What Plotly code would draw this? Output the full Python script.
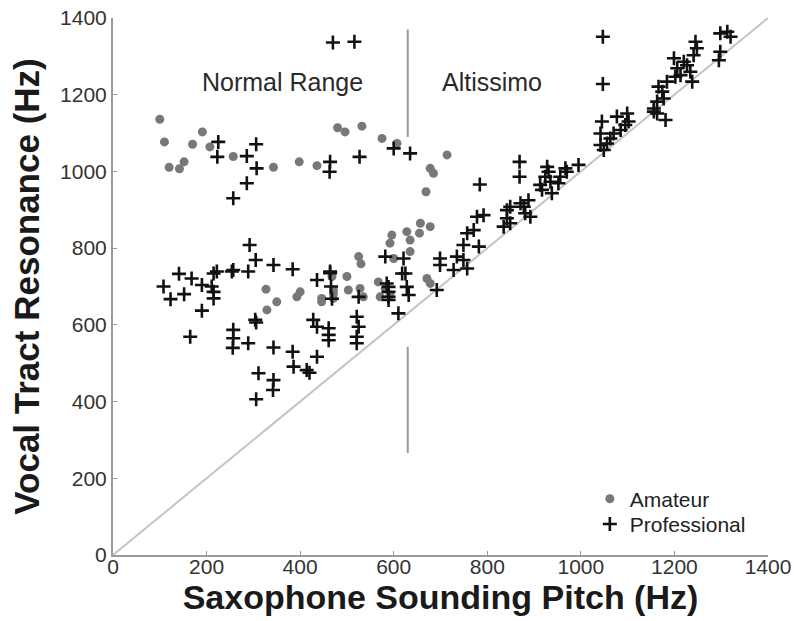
import plotly.graph_objects as go

# Amateur players: sounding pitch (Hz) vs. measured vocal tract resonance (Hz)
amateur_pitch = [100, 110, 170, 191, 207, 120, 142, 152, 257, 343, 398, 436, 480, 496,
                 532, 575, 607, 714, 678, 685, 669, 657, 678, 655, 596, 628, 635, 592,
                 635, 600, 525, 530, 500, 503, 528, 535, 567, 571, 582, 592, 671, 678,
                 468, 471, 327, 350, 329, 393, 400, 446, 446, 471, 471]
amateur_resonance = [1136, 1077, 1071, 1103, 1064, 1011, 1007, 1025, 1039, 1011, 1025, 1015, 1114, 1103,
                     1118, 1086, 1073, 1043, 1008, 995, 947, 865, 856, 839, 834, 843, 821, 813,
                     791, 773, 778, 759, 726, 691, 695, 673, 712, 673, 695, 678, 721, 708,
                     726, 682, 693, 660, 639, 673, 686, 669, 660, 691, 669]

# Professional players
pro_pitch = [470, 516, 225, 223, 286, 306, 307, 286, 257, 464, 463, 527, 600, 635, 784, 869, 869,
             292, 305, 343, 384, 464, 436, 141, 108, 123, 168, 190, 152, 215, 222, 254, 257, 289,
             211, 215, 215, 190, 165, 257, 257, 256, 289, 304, 306, 343, 384, 386, 436, 414, 420,
             311, 343, 342, 306, 428, 436, 461, 461, 461, 525, 521, 525, 521, 521, 464, 466, 468,
             582, 621, 618, 589, 589, 628, 632, 610, 585, 589, 589, 625, 699, 699, 735, 749, 757,
             728, 692, 757, 771, 778, 792, 782, 749, 842, 849, 871, 835, 842, 878, 888, 892, 881,
             849, 928, 931, 924, 935, 913, 917, 938, 952, 956, 967, 970, 995,
             1045, 1077, 1099, 1042, 1049, 1063, 1070, 1085, 1095, 1102, 1042, 1056,
             1047, 1047, 1156, 1163, 1181, 1156, 1163, 1174, 1184, 1166, 1177,
             1199, 1206, 1213, 1227, 1234, 1241, 1245, 1248, 1238, 1220, 1202,
             1298, 1313, 1320, 1298, 1295]
pro_resonance = [1336, 1338, 1077, 1038, 1040, 1071, 1008, 969, 930, 1025, 999, 1038, 1060, 1047, 966, 1025, 986,
                 808, 769, 756, 745, 739, 717, 733, 700, 667, 721, 704, 680, 734, 739, 739, 743, 739,
                 700, 686, 669, 637, 569, 587, 565, 540, 552, 613, 606, 541, 530, 491, 517, 482, 475,
                 474, 456, 430, 406, 613, 595, 591, 574, 560, 673, 621, 595, 569, 552, 735, 700, 668,
                 778, 773, 734, 699, 673, 699, 678, 630, 708, 686, 665, 734, 773, 756, 778, 769, 747,
                 743, 691, 839, 847, 882, 886, 804, 808, 899, 865, 917, 856, 878, 908, 925, 882, 891,
                 908, 1012, 999, 986, 973, 965, 952, 943, 969, 986, 1008, 999, 1017,
                 1130, 1143, 1151, 1069, 1056, 1086, 1099, 1108, 1121, 1130, 1099, 1073,
                 1351, 1228, 1164, 1151, 1134, 1156, 1182, 1208, 1234, 1221, 1190,
                 1295, 1269, 1251, 1277, 1260, 1303, 1338, 1321, 1234, 1286, 1247,
                 1360, 1364, 1351, 1312, 1290]

# Reference line y = x and the register boundary between normal range and altissimo
identity = [0, 1400]
boundary_pitch = 630
boundary_upper = [1370, 1090]
boundary_lower = [543, 266]

axis_ticks = [0, 200, 400, 600, 800, 1000, 1200, 1400]
region_labels = ["Normal Range", "Altissimo"]
region_label_x = [362, 811]
region_label_y = 1233

FONT = "Liberation Sans, Arial, Helvetica, sans-serif"

fig = go.Figure()

fig.add_trace(go.Scatter(x=identity, y=identity, mode="lines",
                         line=dict(color="#c4c4c4", width=2),
                         showlegend=False, hoverinfo="skip"))
fig.add_trace(go.Scatter(x=[boundary_pitch] * 2, y=boundary_upper, mode="lines",
                         line=dict(color="#9a9a9a", width=2),
                         showlegend=False, hoverinfo="skip"))
fig.add_trace(go.Scatter(x=[boundary_pitch] * 2, y=boundary_lower, mode="lines",
                         line=dict(color="#9a9a9a", width=2),
                         showlegend=False, hoverinfo="skip"))

fig.add_trace(go.Scatter(x=amateur_pitch, y=amateur_resonance, mode="markers",
                         name="Amateur", legend="legend",
                         marker=dict(symbol="circle", size=9, color="#787878",
                                     line=dict(width=0))))
fig.add_trace(go.Scatter(x=pro_pitch, y=pro_resonance, mode="markers",
                         name="Professional", legend="legend2",
                         marker=dict(symbol="cross-thin", size=10,
                                     line=dict(width=2.6, color="#111111"),
                                     color="#111111")))

for text, x in zip(region_labels, region_label_x):
    fig.add_annotation(x=x, y=region_label_y, text=text, showarrow=False,
                       font=dict(family=FONT, size=25, color="#2a2a2a"))

axis_common = dict(range=[0, 1400], tickvals=axis_ticks, ticks="inside", ticklen=4,
                   tickcolor="#9a9a9a", showline=True, linecolor="#9a9a9a",
                   linewidth=2, showgrid=False, zeroline=False, automargin=False,
                   tickfont=dict(family=FONT, size=21, color="#333333"))

fig.update_xaxes(**axis_common, ticklabelstandoff=-8,
                 title=dict(text="<b>Saxophone Sounding Pitch (Hz)</b>", standoff=4,
                            font=dict(family=FONT, size=34, color="#1a1a1a")))
fig.update_yaxes(**axis_common,
                 title=dict(text="<b>Vocal Tract Resonance (Hz)</b>", standoff=10,
                            font=dict(family=FONT, size=35, color="#1a1a1a")))

legend_common = dict(xanchor="left", yanchor="middle", bgcolor="rgba(0,0,0,0)",
                     itemwidth=30, font=dict(family=FONT, size=21, color="#222222"))

fig.update_layout(
    width=796, height=621,
    margin=dict(l=113, r=28, t=18, b=66),
    plot_bgcolor="white", paper_bgcolor="white",
    font=dict(family=FONT),
    legend=dict(x=0.728, y=0.104, **legend_common),
    legend2=dict(x=0.728, y=0.057, **legend_common),
)

fig.write_html("out.html")
